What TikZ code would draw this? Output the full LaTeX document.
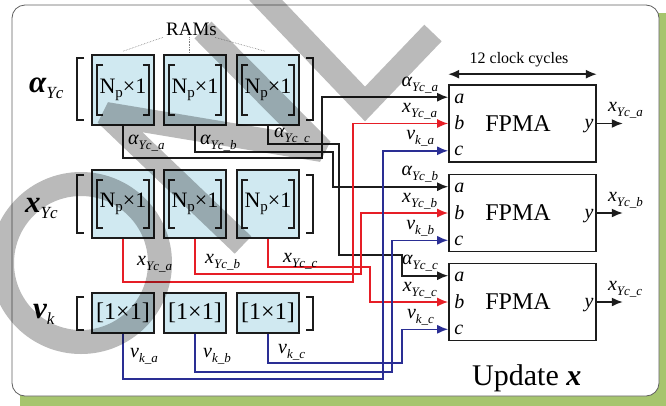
\documentclass[tikz,border=0pt]{standalone}
\usepackage{fontspec}
\setmainfont{Liberation Serif}
\usetikzlibrary{arrows.meta,calc}

\definecolor{ramfill}{RGB}{208,233,241}
\definecolor{wred}{RGB}{230,30,38}
\definecolor{wblue}{RGB}{42,46,148}
\definecolor{wblack}{RGB}{28,28,28}
\definecolor{shadowgreen}{RGB}{166,197,110}
\definecolor{framegray}{RGB}{95,95,95}

% font size in points (one point is one unit of the drawing)
\newcommand\fs[1]{\fontsize{#1}{#1}\selectfont}
% signal name: italic symbol with a lowered subscript such as Yc_a
\newcommand\sig[3]{{\fs{20}\itshape #1}\raisebox{-5pt}{\fs{13}\itshape #2\_#3}}
% vector name at the start of a row of RAMs
\newcommand\rowsym[2]{{\fs{31}\bfseries\itshape #1}\raisebox{-6pt}{\fs{17}\itshape #2}}
% size of one RAM
\newcommand\npone{{\fs{22}N\raisebox{-4pt}{\fs{15}p}×1}}
% square brackets drawn inside a RAM box
\newcommand\innerbrackets[1]{%
  \draw[bracket] ($(#1.north west)+(12,11)$) -- ++(-6,0) |- ($(#1.south west)+(12,-11)$);
  \draw[bracket] ($(#1.north east)+(-12,11)$) -- ++(6,0) |- ($(#1.south east)+(-12,-11)$);}
% square brackets round a whole row
\newcommand\rowbrackets[2]{%
  \draw[bracket] (84,#1) -| (77,#2) -- (84,#2);
  \draw[bracket] (306,#1) -| (313,#2) -- (306,#2);}

\begin{document}
\begin{tikzpicture}[x=1pt,y=-1pt,
  every node/.style={inner sep=0pt},
  ram/.style={draw=wblack, line width=1.6pt, fill=ramfill, minimum width=62pt},
  fpma/.style={draw=wblack, line width=1.6pt, minimum width=147pt, minimum height=77pt, font=\fs{24}},
  bracket/.style={draw=wblack, line width=1.5pt},
  arrowed/.style={-{Latex[length=11pt,width=9pt]}},
  wk/.style={arrowed, draw=wblack, line width=1.6pt},
  wr/.style={arrowed, draw=wred, line width=1.6pt},
  wb/.style={arrowed, draw=wblue, line width=1.6pt},
  port/.style={anchor=base west, font=\fs{20}\itshape},
  sigl/.style={anchor=base west},
]
\useasboundingbox (0,0) rectangle (666,405);

% panel with its shadow
\fill[shadowgreen, rounded corners=13pt] (20,13) rectangle (680,420);
\draw[framegray, line width=0.8pt, fill=white, rounded corners=13pt] (12,5) rectangle (659,396);

% RAM blocks
\node[ram, minimum height=70pt] (a1) at (123,90) {\npone};
\node[ram, minimum height=70pt] (a2) at (195,90) {\npone};
\node[ram, minimum height=70pt] (a3) at (268,90) {\npone};
\node[ram, minimum height=68pt] (x1) at (123,204) {\npone};
\node[ram, minimum height=68pt] (x2) at (195,204) {\npone};
\node[ram, minimum height=68pt] (x3) at (268,204) {\npone};
\node[ram, minimum height=40pt] (v1) at (123,313) {\fs{24}[1×1]};
\node[ram, minimum height=40pt] (v2) at (195,313) {\fs{24}[1×1]};
\node[ram, minimum height=40pt] (v3) at (268,313) {\fs{24}[1×1]};
\foreach \n in {a1,a2,a3,x1,x2,x3} {\innerbrackets{\n}}
\rowbrackets{58}{120}
\rowbrackets{175}{233}
\rowbrackets{297}{330}

\node[anchor=base west] (la) at (29,92) {\rowsym{α}{Yc}};
\node[anchor=base west] (lx) at (25,212) {\rowsym{x}{Yc}};
\node[anchor=base west] (lv) at (33,318) {\rowsym{v}{k}};

\node[font=\fs{19}, anchor=base] (rams) at (191.5,35) {RAMs};
\draw[densely dotted, gray, line width=0.6pt] ($(rams.south west)+(-3,2)$) -- ($(a1.north)+(0,-3)$);
\draw[densely dotted, gray, line width=0.6pt] ($(rams.south)+(-2,2)$) -- ++(0,15);
\draw[densely dotted, gray, line width=0.6pt] ($(rams.south east)+(-2,2)$) -- ($(a3.north)+(-3,-3)$);

% floating-point multiply-add units
\node[fpma] (f1) at (522.5,123.5) {\hspace*{-9pt}FPMA};
\node[fpma] (f2) at (522.5,213) {\hspace*{-9pt}FPMA};
\node[fpma] (f3) at (522.5,302) {\hspace*{-9pt}FPMA};
\foreach \i/\s in {1/a,2/b,3/c} {
  \coordinate (in\i-a) at ($(f\i.north west)+(0,13)$);
  \coordinate (in\i-b) at (f\i.west);
  \coordinate (in\i-c) at ($(f\i.south west)+(0,-12)$);
  \node[port] (pa\i) at ($(in\i-a)+(6,6)$) {a};
  \node[port] (pb\i) at ($(in\i-b)+(6,6)$) {b};
  \node[port] (pc\i) at ($(in\i-c)+(6,5)$) {c};
  \node[port, anchor=base east] (py\i) at ($(f\i.east)+(-3,5)$) {y};
  \draw[wk] (f\i.east) -- ++(26,0) coordinate (out\i);
  \node[anchor=south west] (lo\i) at ($(f\i.east)+(11,-5)$) {\sig{x}{Yc}{\s}};
  \node[anchor=south east] (ia\i) at ($(in\i-a)+(-10,-4)$) {\sig{α}{Yc}{\s}};
  \node[anchor=south east] (ib\i) at ($(in\i-b)+(-11,-4)$) {\sig{x}{Yc}{\s}};
  \node[anchor=south east] (ic\i) at ($(in\i-c)+(-14,-4)$) {\sig{v}{k}{\s}};
}

% latency of one unit
\coordinate (clkL) at ($(f1.north west)+(0,-10)$);
\coordinate (clkR) at ($(f1.north east)+(0,-10)$);
\draw[{Latex[length=11pt,width=9pt]}-{Latex[length=11pt,width=9pt]}, wblack, line width=1.6pt] (clkL) -- (clkR);
\node[anchor=base, font=\fs{16}] (clk) at (519,63) {12 clock cycles};

\node[anchor=base west, font=\fs{30}] (upd) at (472,385) {Update {\bfseries\itshape x}};

% wiring from the RAMs to the units
\draw[wk] (a1.south) |- (322,158) |- (in1-a);
\draw[wk] (a2.south) |- (333,152) |- (in2-a);
\draw[wk] (a3.south) |- (339,144) |- (402,255) |- (in3-a);
\draw[wr] (x1.south) |- (353,282) |- (in1-b);
\draw[wr] (x2.south) |- (361,274) |- (in2-b);
\draw[wr] (x3.south) |- (370,267) |- (in3-b);
\draw[wb] (v1.south) |- (383,379) |- (in1-c);
\draw[wb] (v2.south) |- (392,372) |- (in2-c);
\draw[wb] (v3.south) |- (402,363) |- (in3-c);

\node[sigl] (sa1) at (128,144) {\sig{α}{Yc}{a}};
\node[sigl] (sa2) at (200,144) {\sig{α}{Yc}{b}};
\node[sigl] (sa3) at (274,137) {\sig{α}{Yc}{c}};
\node[sigl] (sx1) at (137,265) {\sig{x}{Yc}{a}};
\node[sigl] (sx2) at (205,263) {\sig{x}{Yc}{b}};
\node[sigl] (sx3) at (283,262) {\sig{x}{Yc}{c}};
\node[sigl] (sv1) at (130,357) {\sig{v}{k}{a}};
\node[sigl] (sv2) at (203,357) {\sig{v}{k}{b}};
\node[sigl] (sv3) at (278,353) {\sig{v}{k}{c}};

% translucent grey lettering across the panel
\draw[black, draw opacity=0.27, line width=24pt, line join=miter, miter limit=2]
  (81,263) circle[radius=79]
  (203,30) -- (322,150) -- (106,114) -- (243,245)
  (258,-8) -- (365,104) -- (433,33);
\end{tikzpicture}
\end{document}
